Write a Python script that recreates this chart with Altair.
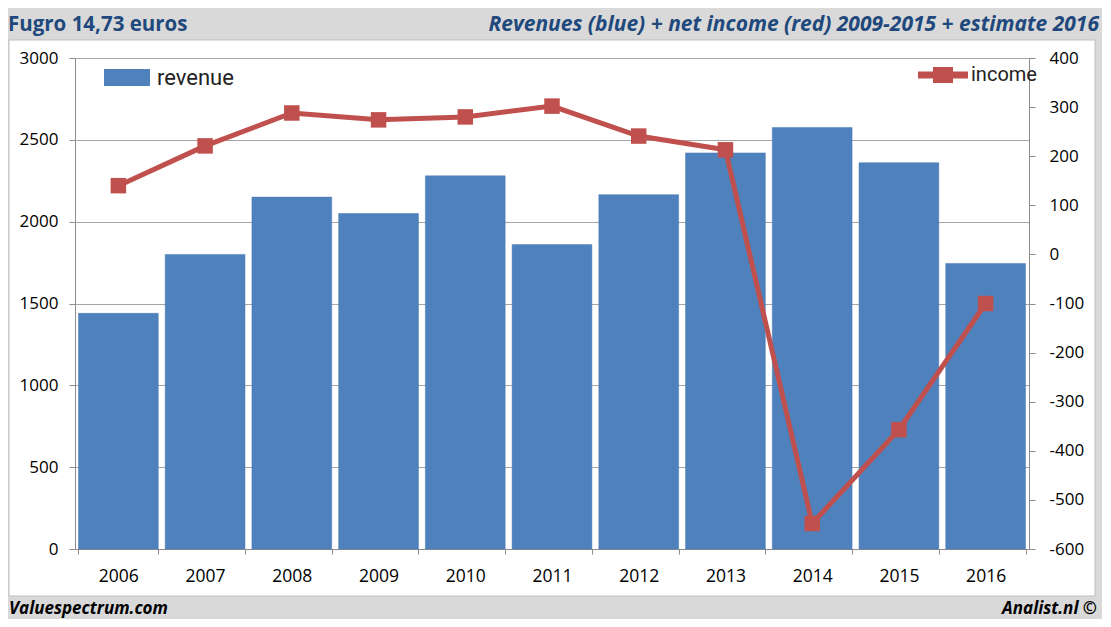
import altair as alt
import pandas as pd

years = ["2006", "2007", "2008", "2009", "2010", "2011", "2012", "2013", "2014", "2015", "2016"]
revenue = [1440, 1800, 2150, 2050, 2280, 1860, 2165, 2420, 2575, 2360, 1745]
income = [140, 221, 288, 274, 280, 302, 241, 213, -548, -357, -100]
rev_ticks = [0, 500, 1000, 1500, 2000, 2500, 3000]
inc_ticks = [-600, -500, -400, -300, -200, -100, 0, 100, 200, 300, 400]

title_left = "Fugro 14,73 euros"
title_right = "Revenues (blue) + net income (red) 2009-2015 + estimate 2016"
foot_left = "Valuespectrum.com"
foot_right = "Analist.nl ©"

df = pd.DataFrame({"year": years, "revenue": revenue, "income": income,
                   "rlab": ["revenue"] * len(years), "ilab": ["income"] * len(years)})
one = pd.DataFrame({"a": [0]})

BLUE = "#4f81bd"
RED = "#c0504d"
TITLE_BLUE = "#1f497d"
FRAME_GRAY = "#d9d9d9"
FONT = "Open Sans"
LEGEND_FONT = "Roboto"
AXIS_GRAY = "#8c8c8c"
PLAIN = "'' + datum.value"

xscale = alt.Scale(paddingInner=0.08, paddingOuter=0.04)
xaxis = alt.Axis(title=None, labelFont=FONT, labelFontSize=17.5, labelColor="black",
                 labelPadding=13, tickSize=5, tickBand="extent", tickColor=AXIS_GRAY,
                 domainColor=AXIS_GRAY, labelAngle=0, grid=False)


def frame_rect(x1, x2, y1, y2):
    return alt.Chart(one).mark_rect(fill=FRAME_GRAY, strokeWidth=0).encode(
        x=alt.value(x1), x2=alt.value(x2), y=alt.value(y1), y2=alt.value(y2))


frame_top = frame_rect(-70, 1030, -52, -18)
frame_bottom = frame_rect(-70, 1030, 538, 565)
frame_left = frame_rect(-70, -66, -52, 565)
frame_right = frame_rect(1020, 1030, -52, 565)
border = alt.Chart(one).mark_rect(fill=None, stroke="#bfbfbf", strokeWidth=1).encode(
    x=alt.value(-66), x2=alt.value(1020), y=alt.value(-18), y2=alt.value(538))

bars = alt.Chart(df).mark_bar(stroke="#4a7ab3", strokeWidth=0.5).encode(
    x=alt.X("year:N", sort=years, scale=xscale, axis=xaxis),
    y=alt.Y("revenue:Q", scale=alt.Scale(domain=[0, 3000], nice=False),
            axis=alt.Axis(title=None, orient="left", values=rev_ticks, labelExpr=PLAIN,
                          labelFont=FONT, labelFontSize=17, labelColor="black",
                          labelPadding=11, tickSize=6, tickColor=AXIS_GRAY,
                          domainColor=AXIS_GRAY, grid=True, gridColor="#a6a6a6",
                          gridWidth=1)),
    color=alt.Color("rlab:N", scale=alt.Scale(domain=["revenue"], range=[BLUE]),
                    legend=alt.Legend(title=None, orient="none", legendX=29, legendY=-3.5,
                                      symbolType="M-1,-0.37H1V0.37H-1Z", symbolSize=2116,
                                      symbolStrokeWidth=0, labelFont=LEGEND_FONT,
                                      labelFontSize=22, labelColor="#222222", labelOffset=7,
                                      padding=0)),
)

inc_y = alt.Y("income:Q", scale=alt.Scale(domain=[-600, 400], nice=False),
              axis=alt.Axis(title=None, orient="right", values=inc_ticks, labelExpr=PLAIN,
                            labelFont=FONT, labelFontSize=17, labelColor="black",
                            labelPadding=14, tickSize=6, tickColor=AXIS_GRAY,
                            domainColor=AXIS_GRAY, grid=False))

line = alt.Chart(df).mark_line(color=RED, strokeWidth=5).encode(
    x=alt.X("year:N", sort=years, scale=xscale), y=inc_y
)
points = alt.Chart(df).mark_square(size=240, opacity=1).encode(
    x=alt.X("year:N", sort=years, scale=xscale), y=inc_y,
    color=alt.Color("ilab:N", scale=alt.Scale(domain=["income"], range=[RED]),
                    legend=alt.Legend(title=None, orient="none", legendX=843, legendY=-8,
                                      symbolType="M-1,-0.14H-0.4V-0.32H0.4V-0.14H1V0.14H0.4V0.32H-0.4V0.14H-1Z",
                                      symbolSize=2500, symbolStrokeWidth=0,
                                      labelFont=LEGEND_FONT, labelFontSize=20,
                                      labelColor="#222222", labelOffset=3, padding=0)),
)
income_layer = alt.layer(line, points)

t_left = alt.Chart(one).mark_text(text=title_left, font=FONT, fontSize=20.5, fontWeight="bold",
                                  color=TITLE_BLUE, align="left", baseline="alphabetic").encode(
    x=alt.value(-67), y=alt.value(-27))
t_right = alt.Chart(one).mark_text(text=title_right, font=FONT, fontSize=21, fontWeight="bold",
                                   fontStyle="italic", color=TITLE_BLUE, align="right",
                                   baseline="alphabetic").encode(
    x=alt.value(1024), y=alt.value(-27))
f_left = alt.Chart(one).mark_text(text=foot_left, font=FONT, fontSize=17, fontWeight="bold",
                                  fontStyle="italic", color="black", align="left",
                                  baseline="alphabetic").encode(
    x=alt.value(-66), y=alt.value(556))
f_right = alt.Chart(one).mark_text(text=foot_right, font=FONT, fontSize=17, fontWeight="bold",
                                   fontStyle="italic", color="black", align="right",
                                   baseline="alphabetic").encode(
    x=alt.value(1022), y=alt.value(556))

chart = alt.layer(
    bars, income_layer, frame_top, frame_bottom, frame_left, frame_right, border,
    t_left, t_right, f_left, f_right
).resolve_scale(
    y="independent", color="independent"
).properties(
    width=954, height=491,
    padding={"left": 67, "top": 50, "right": 73, "bottom": 70},
    autosize=alt.AutoSizeParams(type="none"),
    background="white",
).configure_view(stroke=None)

chart.save("out.html", embed_options={"renderer": "svg", "actions": False})
